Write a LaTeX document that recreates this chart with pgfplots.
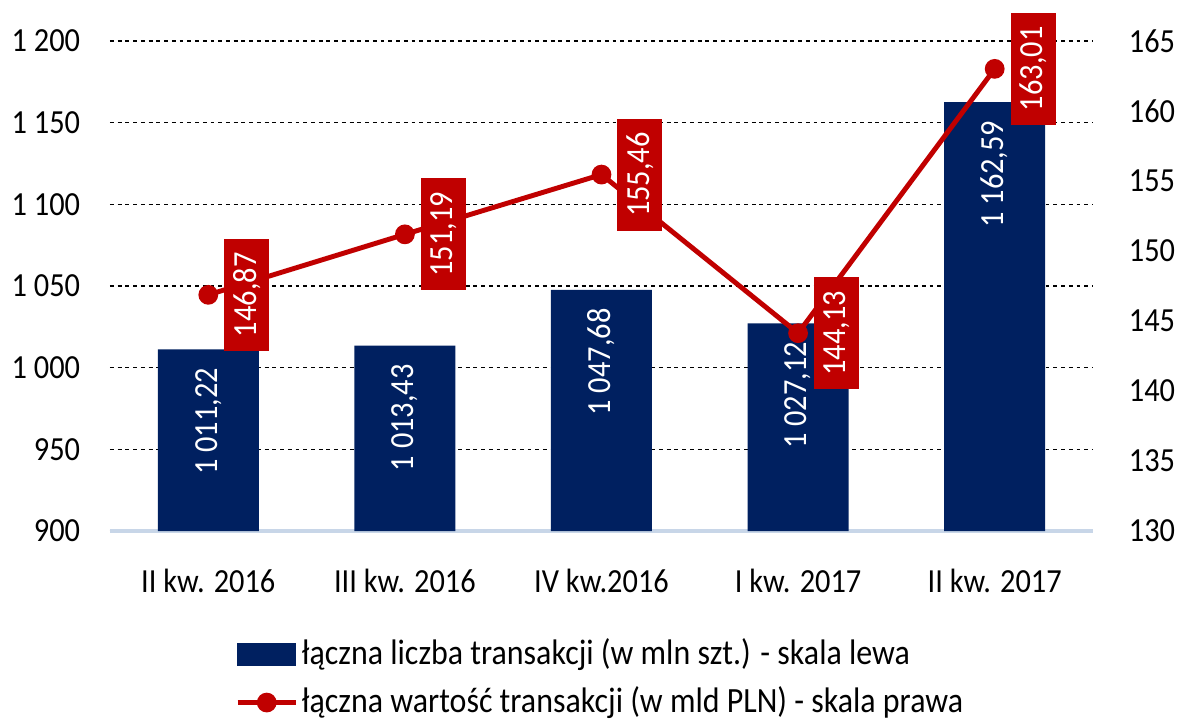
\documentclass[border=0pt]{standalone}
\usepackage{fontspec}
\setmainfont{Carlito}[FakeStretch=0.9]
\usepackage{pgfplots}
\pgfplotsset{compat=1.18}
\definecolor{navy}{RGB}{0,32,96}
\definecolor{lred}{RGB}{192,0,0}
\definecolor{baseln}{RGB}{200,214,232}
\pgfplotsset{
  my line legend/.style={legend image code/.code={%
    \draw[mark repeat=2,mark phase=2,##1] plot coordinates {(0cm,0cm) (0.29cm,0cm) (0.58cm,0cm)};}},
  my bar legend/.style={legend image code/.code={%
    \fill[navy] (0cm,-0.11cm) rectangle (0.58cm,0.11cm);}},
  valfmt/.style={nodes near coords={\pgfmathprintnumber[fixed,fixed zerofill,precision=2,use comma,1000 sep={\ }]{\pgfplotspointmeta}}}}

\begin{document}
\begin{tikzpicture}
\pgfplotsset{
  every axis/.append style={
    scale only axis, width=9.83cm, height=4.9cm,
    at={(0,0)}, anchor=south west,
    xmin=-0.5, xmax=4.5,
    font=\fontsize{9.6}{11}\selectfont,
    /pgf/number format/assume math mode=true,
    /pgf/number format/1000 sep={\ },
    major tick length=0pt,
  }}
% bars - left scale
\begin{axis}[
  axis x line*=bottom, axis y line*=left,
  x axis line style={baseln, line width=1pt, -},
  y axis line style={draw=none},
  ymin=900, ymax=1200, ytick={900,950,...,1200},
  ymajorgrids, grid style={black, line width=0.4pt, dash pattern=on 1.1pt off 1.1pt},
  xtick={0,...,4},
  xticklabels={II kw. 2016, III kw. 2016, IV kw.2016, I kw. 2017, II kw. 2017},
  xticklabel style={yshift=-0.26cm},
  yticklabel style={xshift=-0.175cm},
  ybar, bar width=1.01cm, valfmt,
  every node near coord/.append style={rotate=90, anchor=east, text=white, inner xsep=0.18cm},
]
\addplot[fill=navy, draw=none] coordinates
  {(0,1011.22) (1,1013.43) (2,1047.68) (3,1027.12) (4,1162.59)};
\end{axis}
% line - right scale
\begin{axis}[
  axis y line*=right, axis x line=none,
  y axis line style={draw=none},
  ymin=130, ymax=165, ytick={130,135,...,165},
  yticklabel style={xshift=0.235cm},
  legend style={draw=none, fill=none, at={(axis description cs:0.116,-0.204)},
    anchor=north west, row sep=0.17cm, column sep=0pt,
    font=\fontsize{10.1}{12}\selectfont,
    nodes={inner xsep=1pt, inner ysep=0pt}},
  legend cell align=left,
]
\addlegendimage{my bar legend}
\addlegendentry{łączna liczba transakcji (w mln szt.) - skala lewa}
\addplot[lred, line width=1.4pt, mark=*, mark size=2.1pt, my line legend, valfmt,
  every node near coord/.append style={rotate=90, anchor=north, fill=lred, text=white,
    minimum width=1.12cm, minimum height=0.45cm, inner sep=0pt, outer ysep=0.16cm}]
  coordinates {(0,146.87) (1,151.19) (2,155.46) (3,144.13) (4,163.01)};
\addlegendentry{łączna wartość transakcji (w mld PLN) - skala prawa}
\end{axis}
\pgfresetboundingbox
\useasboundingbox (-1.10,-1.93) rectangle (10.70,5.31);
\end{tikzpicture}
\end{document}
